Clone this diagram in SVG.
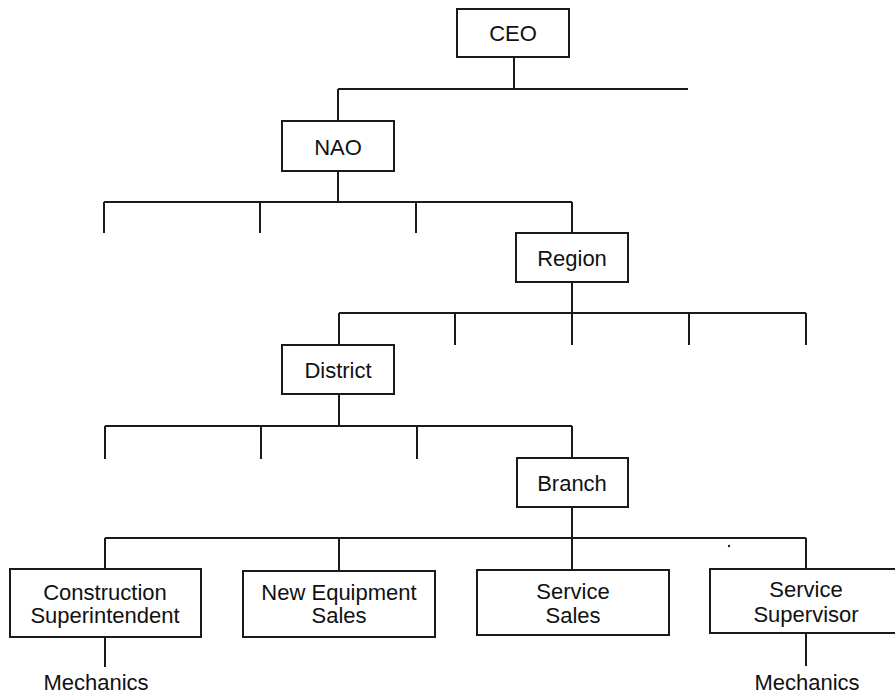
<svg xmlns="http://www.w3.org/2000/svg" width="895" height="695" viewBox="0 0 895 695">
<style>
.box{fill:#fff;stroke:#1a1a1a;stroke-width:2}
.ln{fill:none;stroke:#1a1a1a;stroke-width:2}
text{font-family:"Liberation Sans",Arial,sans-serif;font-size:22px;fill:#111;text-anchor:middle}
</style>
<rect width="895" height="695" fill="#fff"/>
<g id="connectors">
<path class="ln" d="M514 57V89M338 89H688M338 89V121"/>
<path class="ln" d="M338 171V202M104 202H572M104 202V233M260 202V233M416 202V233M572 202V233"/>
<path class="ln" d="M572 282V313M339 313H806M339 313V345M455 313V345M572 313V345M689 313V345M806 313V345"/>
<path class="ln" d="M339 394V426M105 426H572M105 426V459M261 426V459M417 426V459M572 426V458"/>
<path class="ln" d="M572 507V570M105 538H806M105 538V569M339 538V571M806 538V569"/>
<path class="ln" d="M105 637V667M806 633V666"/>
</g>
<circle cx="729" cy="546" r="1.2" fill="#222"/>
<g id="ceo"><rect class="box" x="457" y="9" width="112" height="48"/><text x="513" y="41">CEO</text></g>
<g id="nao"><rect class="box" x="282" y="121" width="112" height="50"/><text x="338" y="155">NAO</text></g>
<g id="region"><rect class="box" x="516" y="233" width="112" height="49"/><text x="572" y="266">Region</text></g>
<g id="district"><rect class="box" x="282" y="345" width="112" height="49"/><text x="338" y="378">District</text></g>
<g id="branch"><rect class="box" x="517" y="458" width="111" height="49"/><text x="572" y="491">Branch</text></g>
<g id="construction"><rect class="box" x="10" y="569" width="191" height="68"/><text x="105" y="600">Construction</text><text x="105" y="623">Superintendent</text></g>
<g id="newequip"><rect class="box" x="243" y="571" width="192" height="66"/><text x="339" y="600">New Equipment</text><text x="339" y="623">Sales</text></g>
<g id="servicesales"><rect class="box" x="477" y="570" width="192" height="65"/><text x="573" y="599">Service</text><text x="573" y="623">Sales</text></g>
<g id="servicesup"><rect class="box" x="710" y="569" width="192" height="64"/><text x="806" y="597">Service</text><text x="806" y="622">Supervisor</text></g>
<g id="mech1"><text x="96" y="690">Mechanics</text></g>
<g id="mech2"><text x="807" y="690">Mechanics</text></g>
</svg>
